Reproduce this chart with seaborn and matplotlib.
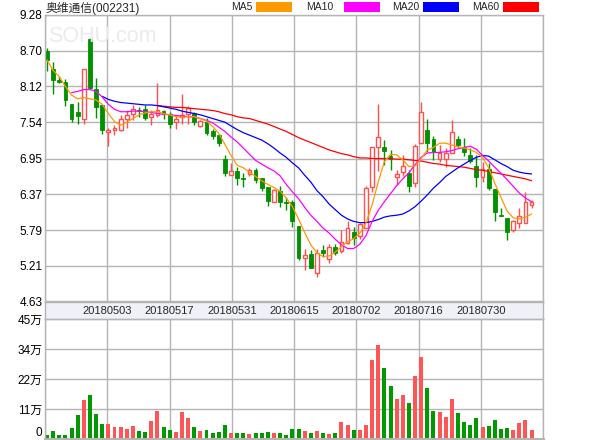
import numpy as np
import pandas as pd
import matplotlib
matplotlib.use("Agg")
import matplotlib.pyplot as plt
from matplotlib.patches import Rectangle
import seaborn as sns

# daily candles
opens = [8.70, 8.40, 8.225, 8.19, 7.84, 7.71, 7.59, 8.89, 8.08, 7.82,
         7.38, 7.41, 7.41, 7.59, 7.67, 7.74, 7.75, 7.63, 7.66, 7.72,
         7.67, 7.54, 7.62, 7.68, 7.69, 7.48, 7.55, 7.40, 7.33, 6.95,
         6.69, 6.74, 6.63, 6.70, 6.76, 6.63, 6.49, 6.25, 6.43, 6.24,
         6.25, 5.86, 5.33, 5.40, 5.09, 5.47, 5.32, 5.52, 5.45, 5.575,
         5.76, 5.69, 5.82, 6.49, 7.13, 7.13, 6.99, 6.645, 6.73, 6.71,
         6.56, 7.20, 7.41, 7.26, 6.94, 6.94, 7.04, 7.27, 7.13, 7.00,
         6.835, 6.65, 6.78, 6.45, 6.04, 5.98, 5.79, 5.90, 5.90, 6.19]
highs = [8.75, 8.52, 8.29, 8.24, 7.84, 7.87, 8.40, 8.91, 8.26, 7.82,
         7.45, 7.50, 7.66, 7.74, 7.82, 7.79, 7.82, 7.74, 8.18, 7.74,
         7.71, 7.66, 8.00, 7.80, 7.70, 7.58, 7.61, 7.43, 7.35, 7.01,
         6.87, 6.81, 6.71, 6.79, 6.80, 6.63, 6.49, 6.45, 6.51, 6.33,
         6.27, 5.86, 5.49, 5.47, 5.49, 5.55, 5.57, 5.57, 5.79, 5.94,
         5.84, 5.91, 6.50, 7.13, 7.83, 7.25, 7.09, 6.76, 7.01, 6.76,
         7.19, 7.87, 7.59, 7.31, 7.17, 7.12, 7.58, 7.31, 7.29, 7.12,
         7.01, 6.89, 6.87, 6.45, 6.14, 5.98, 5.96, 6.14, 6.41, 6.28]
lows = [8.37, 8.00, 8.17, 7.80, 7.55, 7.51, 7.51, 8.08, 7.61, 7.35,
        7.16, 7.33, 7.40, 7.45, 7.58, 7.63, 7.58, 7.50, 7.63, 7.60,
        7.45, 7.43, 7.51, 7.51, 7.50, 7.46, 7.33, 7.26, 7.15, 6.66,
        6.69, 6.52, 6.49, 6.66, 6.55, 6.43, 6.18, 6.25, 6.17, 6.12,
        5.84, 5.31, 5.14, 5.18, 5.02, 5.36, 5.25, 5.39, 5.41, 5.56,
        5.55, 5.65, 5.82, 6.41, 6.75, 6.85, 6.76, 6.52, 6.66, 6.41,
        6.49, 7.20, 7.06, 6.92, 6.90, 6.82, 7.04, 7.13, 6.99, 6.87,
        6.49, 6.57, 6.44, 5.93, 6.01, 5.63, 5.76, 5.82, 5.90, 6.14]
closes = [8.55, 8.225, 8.19, 7.90, 7.59, 7.64, 8.40, 8.10, 7.79, 7.41,
          7.41, 7.45, 7.59, 7.66, 7.76, 7.72, 7.61, 7.67, 7.74, 7.68,
          7.51, 7.59, 7.66, 7.77, 7.55, 7.56, 7.37, 7.31, 7.20, 6.71,
          6.74, 6.63, 6.62, 6.76, 6.61, 6.48, 6.26, 6.44, 6.25, 6.23,
          5.94, 5.33, 5.39, 5.18, 5.41, 5.41, 5.51, 5.42, 5.59, 5.82,
          5.665, 5.88, 6.47, 7.13, 7.295, 7.08, 6.95, 6.70, 6.83, 6.51,
          7.15, 7.70, 7.21, 7.05, 7.04, 7.04, 7.38, 7.17, 7.05, 6.91,
          6.65, 6.78, 6.48, 6.08, 6.01, 5.76, 5.94, 6.02, 6.25, 6.25]
# volume in 万 (10k shares)
volumes = [1.5, 3.1, 1.5, 1.5, 4.1, 9.0, 14.6, 16.5, 9.4, 5.6,
           5.6, 4.5, 4.5, 3.75, 4.9, 3.0, 2.6, 6.75, 10.5, 4.5,
           3.4, 2.6, 10.1, 7.9, 4.5, 3.0, 3.4, 2.25, 2.6, 5.25,
           2.25, 2.25, 2.25, 1.9, 2.25, 2.25, 2.6, 2.25, 2.25, 1.5,
           3.75, 3.75, 3.1, 2.25, 3.0, 2.25, 1.9, 2.25, 6.4, 5.25,
           3.4, 3.4, 5.25, 29.6, 35.25, 26.6, 19.9, 15.0, 16.5, 13.5,
           23.6, 30.75, 19.1, 10.5, 10.1, 8.25, 15.0, 9.75, 6.4, 5.25,
           7.9, 4.5, 4.9, 7.1, 3.75, 4.1, 3.4, 6.0, 7.1, 3.4]

ma5 = [8.55, 8.38, 8.28, 8.12, 7.98, 7.92, 7.94, 7.92, 7.90, 7.83,
       7.68, 7.55, 7.49, 7.54, 7.60, 7.66, 7.69, 7.71, 7.71, 7.68,
       7.66, 7.63, 7.62, 7.63, 7.63, 7.60, 7.56, 7.47, 7.36, 7.18,
       7.00, 6.84, 6.80, 6.73, 6.66, 6.59, 6.53, 6.48, 6.42, 6.31,
       6.17, 5.97, 5.75, 5.55, 5.42, 5.36, 5.37, 5.43, 5.52, 5.60,
       5.65, 5.74, 5.90, 6.20, 6.57, 6.90, 7.02, 7.01, 6.93, 6.82,
       6.83, 6.95, 7.09, 7.13, 7.20, 7.20, 7.17, 7.14, 7.12, 7.09,
       7.05, 6.97, 6.80, 6.55, 6.32, 6.10, 5.99, 5.97, 6.00, 6.05]
ma10 = [None] * 4 + [
    8.02, 8.04, 8.07, 8.07, 8.04, 7.95,
    7.83, 7.75, 7.71, 7.71, 7.72, 7.72, 7.71, 7.70, 7.68, 7.67,
    7.66, 7.65, 7.64, 7.63, 7.62, 7.60, 7.57, 7.53, 7.46, 7.39,
    7.30, 7.22, 7.12, 7.02, 6.92, 6.86, 6.80, 6.75, 6.67, 6.53,
    6.41, 6.30, 6.16, 6.03, 5.93, 5.82, 5.74, 5.64, 5.55, 5.49,
    5.49, 5.56, 5.70, 5.93, 6.11, 6.25, 6.38, 6.51, 6.62, 6.72,
    6.85, 6.97, 7.04, 7.05, 7.05, 7.06, 7.08, 7.11, 7.13, 7.15,
    7.10, 7.00, 6.91, 6.81, 6.71, 6.61, 6.50, 6.39, 6.31, 6.25]
ma20 = [None] * 9 + [
    7.96, 7.91, 7.88, 7.86, 7.85, 7.84, 7.83, 7.82, 7.82, 7.81, 7.79,
    7.77, 7.75, 7.72, 7.70, 7.68, 7.66, 7.63, 7.60, 7.57, 7.54,
    7.48, 7.42, 7.37, 7.33, 7.29, 7.25, 7.19, 7.12, 7.04, 6.97,
    6.88, 6.80, 6.68, 6.57, 6.43, 6.33, 6.21, 6.12, 6.03, 5.97,
    5.93, 5.91, 5.91, 5.93, 5.96, 6.00, 6.02, 6.03, 6.05, 6.10,
    6.17, 6.26, 6.36, 6.47, 6.56, 6.66, 6.73, 6.80, 6.86, 6.92,
    6.97, 7.00, 6.99, 6.93, 6.87, 6.82, 6.76, 6.73, 6.71, 6.70]
ma60 = [None] * 18 + [
    7.81, 7.80, 7.79, 7.78, 7.78, 7.77, 7.76, 7.75, 7.74, 7.73,
    7.71, 7.68, 7.66, 7.63, 7.61, 7.60, 7.57, 7.54, 7.51, 7.47, 7.43, 7.39,
    7.34, 7.29, 7.25, 7.21, 7.17, 7.13, 7.09, 7.06, 7.03, 7.01,
    6.98, 6.96, 6.96, 6.95, 6.95, 6.95, 6.95, 6.94, 6.94, 6.93,
    6.92, 6.91, 6.89, 6.87, 6.86, 6.84, 6.83, 6.82, 6.81, 6.79,
    6.77, 6.76, 6.74, 6.72, 6.70, 6.68, 6.66, 6.64, 6.62, 6.59]

date_labels = ["20180503", "20180517", "20180531", "20180615",
               "20180702", "20180716", "20180730"]
price_ticks = [4.63, 5.21, 5.79, 6.37, 6.95, 7.54, 8.12, 8.70, 9.28]
vol_ticks = [0, 11.25, 22.5, 33.75, 45]
vol_tick_labels = ["0", "11万", "22万", "34万", "45万"]
ma_names = ["MA5", "MA10", "MA20", "MA60"]
ma_colors = ["#ff9900", "#ff00ff", "#0000ff", "#ff0000"]

RED = "#ff5050"
GREEN = "#009000"
GRID = "#b4b4b4"

sns.set_theme(style="white")
plt.rcParams["font.family"] = ["Liberation Sans", "Noto Sans CJK SC"]

W, H = 600, 440
fig = plt.figure(figsize=(6, 4.4), dpi=100)


def box(x0, y0, x1, y1):
    return [x0 / W, 1 - y1 / H, (x1 - x0) / W, (y1 - y0) / H]


ax = fig.add_axes(box(45, 15, 543, 301.5))
band = fig.add_axes(box(45, 301.5, 543, 319))
axv = fig.add_axes(box(45, 319, 543, 439))

idx = np.arange(len(closes))
o = np.array(opens)
c = np.array(closes)
hi = np.array(highs)
lo = np.array(lows)
up = c >= o

xmin, xmax = -0.33, 80.86
xgrid = np.linspace(xmin, xmax, 9)

# candles
bw = 0.62
ax.vlines(idx[~up], lo[~up], hi[~up], color=GREEN, lw=1, zorder=2)
ax.bar(idx[~up], np.maximum(o[~up] - c[~up], 0.012), bottom=c[~up], width=bw,
       color=GREEN, edgecolor=GREEN, lw=0.6, zorder=2)
ax.vlines(idx[up], c[up], hi[up], color=RED, lw=1, zorder=2)
ax.vlines(idx[up], lo[up], o[up], color=RED, lw=1, zorder=2)
ax.bar(idx[up], np.maximum(c[up] - o[up], 0.012), bottom=o[up], width=bw,
       facecolor="white", edgecolor=RED, lw=1, zorder=2)

for vals, col in zip([ma60, ma20, ma10, ma5], ma_colors[::-1]):
    sns.lineplot(x=idx, y=np.array(vals, dtype=float), color=col, lw=0.9,
                 ax=ax, zorder=3)

ax.set_xlim(xmin, xmax)
ax.set_ylim(4.63, 9.28)
ax.set_yticks(price_ticks)
ax.set_yticklabels([f"{v:.2f}" for v in price_ticks])
ax.set_xticks(xgrid)
ax.set_xticklabels([])
ax.set_ylabel("")

# volume (categorical positions 0..79 line up with candle index)
df = pd.DataFrame({"i": idx, "vol": volumes,
                   "dir": np.where(up, "up", "down")})
sns.barplot(data=df, x="i", y="vol", hue="dir", order=list(idx),
            palette={"up": "#ff5555", "down": "#009900"},
            dodge=False, width=0.65, errorbar=None, linewidth=0,
            legend=False, saturation=1, ax=axv)
axv.set_xlim(xmin, xmax)
axv.set_ylim(0, 45)
axv.set_yticks(vol_ticks)
axv.set_yticklabels(vol_tick_labels)
axv.get_yticklabels()[0].set_va("bottom")
axv.set_xticks(xgrid)
axv.set_xticklabels([])
axv.set_xlabel("")
axv.set_ylabel("")

for a in (ax, axv):
    a.grid(True, color=GRID, lw=1)
    a.set_axisbelow(True)
    a.tick_params(length=0, labelsize=8.5, pad=2, colors="black")
    for s in a.spines.values():
        s.set_color(GRID)
        s.set_linewidth(1)
axv.spines["bottom"].set_linewidth(2.2)

# date band
band.set_facecolor("#f0f1f8")
band.set_xlim(xmin, xmax)
band.set_ylim(0, 1)
band.set_xticks([])
band.set_yticks([])
for s in band.spines.values():
    s.set_color(GRID)
    s.set_linewidth(1)
for xg, lab in zip(xgrid[1:-1], date_labels):
    band.text(xg, 0.45, lab, ha="center", va="center", fontsize=8)

# header
fig.text(46 / W, 1 - 8 / H, "奥维通信(002231)", fontsize=8.5, va="center")
fig.text(48 / W, 1 - 36 / H, "SOHU.com", fontsize=15.5, color="#ebebeb",
         va="center")
leg_x = [(231, 256), (306, 344), (392, 423), (472, 503)]
for (tx, rx), name, col in zip(leg_x, ma_names, ma_colors):
    fig.text(tx / W, 1 - 7.5 / H, name, fontsize=7.5, va="center")
    fig.add_artist(Rectangle((rx / W, 1 - 12 / H), 36 / W, 10 / H,
                             transform=fig.transFigure, color=col, lw=0))

fig.savefig("out.png", dpi=100)
